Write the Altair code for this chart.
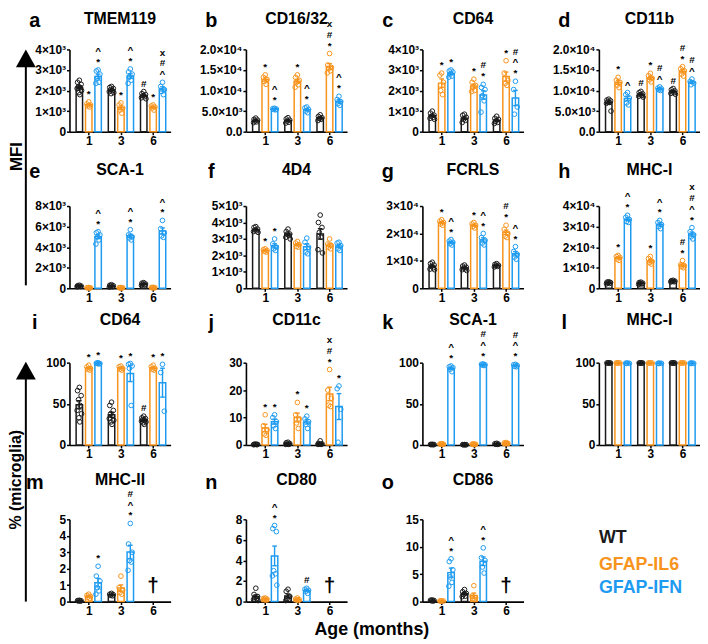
import altair as alt
import numpy as np
import pandas as pd

FONT = "Liberation Sans"
SERIES = ["WT", "GFAP-IL6", "GFAP-IFN"]
COLORS = ["#1a1a1a", "#F7941D", "#1E9BF0"]
AGES = ["1", "3", "6"]

# ---------------- values: one list of points per age (1, 3, 6 months) ----------------
TMEM119_WT = [[2500, 2400, 2300, 2200, 2150, 2100, 2000, 1900, 1800], [2200, 2150, 2100, 2050, 2000, 1950, 1900, 1850], [1950, 1850, 1800, 1750, 1700, 1650, 1600]]
TMEM119_IL6 = [[1450, 1350, 1300, 1250, 1200], [1400, 1300, 1150, 1050, 900], [1300, 1250, 1200, 1150, 1050]]
TMEM119_IFN = [[3000, 2950, 2800, 2600, 2400, 2350], [3050, 2900, 2800, 2650, 2500, 2350], [2400, 2200, 2050, 1950, 1800]]
TMEM119_SIG = [["", "*", "*^"], ["", "*", "*^"], ["#", "*", "^#x"]]

CD1632_WT = [[3300, 3000, 2800, 2600, 2400, 2200], [3400, 3100, 2800, 2600, 2300, 2100], [4100, 3700, 3400, 3200, 3000, 2700]]
CD1632_IL6 = [[13800, 13200, 12700, 12200, 11500], [13800, 13200, 12500, 12000, 11400, 10800], [19000, 16200, 15600, 15300, 14800, 14300]]
CD1632_IFN = [[5700, 5600, 5500, 5400, 5300], [6000, 5800, 5400, 5000, 4600], [8600, 7800, 7300, 6800, 6400]]
CD1632_SIG = [["", "*", "*^"], ["", "*", "*^"], ["", "*#x", "*^"]]

CD64M_WT = [[1000, 900, 800, 750, 700, 650, 600], [850, 800, 700, 600, 550, 450], [750, 650, 600, 500, 450, 400]]
CD64M_IL6 = [[2850, 2750, 2400, 2000, 1800], [2550, 2400, 2250, 2150, 2000, 1950], [3450, 2850, 2500, 2350, 2250]]
CD64M_IFN = [[3000, 2950, 2900, 2800, 2700, 2650], [2300, 2150, 2050, 1750, 1500, 950], [2450, 2050, 1200, 850]]
CD64M_SIG = [["", "*", "*"], ["", "*", "*#"], ["", "*", "*^#"]]

CD11B_WT = [[7900, 7700, 7500, 7300, 7100, 6900, 5000], [9800, 9500, 9200, 9000, 8800, 8600, 8400], [10500, 10200, 9900, 9700, 9500, 9300, 9100]]
CD11B_IL6 = [[13200, 12500, 12000, 11300, 10700], [14200, 13600, 13000, 12600, 12100], [15800, 15300, 14800, 14000, 13500]]
CD11B_IFN = [[9500, 9000, 8200, 7000, 6500], [10900, 10600, 10400, 10200, 10000], [12800, 12200, 11800, 11400]]
CD11B_SIG = [["", "*", "^"], ["#", "*", "^#"], ["#", "*#", "^#"]]

SCA1M_WT = [[300, 250, 220, 200, 180, 150], [350, 300, 250, 200, 150, 120], [550, 500, 420, 380, 330, 300]]
SCA1M_IL6 = [[80, 60, 50, 40, 30], [80, 60, 50, 40, 30], [100, 80, 60, 50, 40]]
SCA1M_IFN = [[5500, 5400, 5200, 5000, 4700, 4300], [5700, 5200, 5000, 4900, 4700], [6600, 5800, 5400, 5100, 4950]]
SCA1M_SIG = [["", "", "*^"], ["", "", "*^"], ["", "", "*^"]]

D4D4_WT = [[3750, 3700, 3600, 3550, 3500, 3450, 3400], [3600, 3450, 3300, 3300, 3200, 3100, 3000], [4450, 4000, 3700, 3400, 3100, 2350, 2150]]
D4D4_IL6 = [[2400, 2350, 2300, 2250, 2200], [2850, 2750, 2650, 2550, 2500], [3000, 2700, 2600, 2500, 2400]]
D4D4_IFN = [[3000, 2700, 2500, 2400, 2300], [3050, 2800, 2500, 2200, 2100], [2800, 2750, 2600, 2400, 2300]]
D4D4_SIG = [["", "*", "*"], ["", "", ""], ["", "", ""]]

FCRLS_WT = [[9500, 9000, 8500, 8000, 7500, 7000, 6800], [8500, 8100, 7700, 7400, 7100, 6800, 6500], [9000, 8700, 8400, 8200, 8000, 7800]]
FCRLS_IL6 = [[25000, 24500, 24000, 23500, 23000], [24000, 23500, 23000, 22500, 22000], [23000, 21500, 20000, 19000, 18500]]
FCRLS_IFN = [[17800, 17200, 16800, 16300, 15800], [20000, 18500, 17500, 16500, 15800], [15200, 13400, 12400, 11400, 10600]]
FCRLS_SIG = [["", "*", "*^"], ["", "*", "*^"], ["", "*#", "*^"]]

MHCIM_WT = [[3200, 3000, 2800, 2600, 2400, 2200], [3000, 2800, 2500, 2300, 2100, 1900], [3900, 3700, 3500, 3400, 3200, 3100]]
MHCIM_IL6 = [[16000, 15500, 15000, 14200, 13600], [15500, 14500, 13000, 12500, 11800], [13500, 11500, 11000, 10500, 10000]]
MHCIM_IFN = [[35500, 34500, 33500, 32500, 32000], [33000, 32000, 31000, 30000, 29000], [29500, 27500, 26000, 25000, 24000]]
MHCIM_SIG = [["", "*", "*^"], ["", "*", "*^"], ["", "*#", "*^#x"]]

CD64P_WT = [[70, 66, 60, 55, 48, 42, 38, 33, 28], [52, 48, 42, 38, 35, 32, 30, 28, 25], [35, 33, 32, 31, 30, 29, 28, 27, 25]]
CD64P_IL6 = [[97, 95, 93, 92, 91], [96, 95, 93, 92, 91], [97, 95, 93, 92, 91]]
CD64P_IFN = [[100, 99.5, 99, 99, 98.5], [99, 98, 96, 93, 48], [98, 88, 41]]
CD64P_SIG = [["", "*", "*"], ["", "*", "*"], ["#", "*", "*"]]

CD11C_WT = [[0.3, 0.2, 0.2, 0.1, 0.1, 0.2], [1.0, 0.8, 0.5, 0.3, 0.2, 0.2], [1.5, 0.6, 0.4, 0.3, 0.2, 0.2]]
CD11C_IL6 = [[11, 7, 5.5, 4, 3.5], [15.5, 11, 9.5, 8, 6], [27.5, 20, 17, 14, 14.5]]
CD11C_IFN = [[11, 10, 8.5, 7, 6], [10.5, 9.5, 8.5, 7.5, 6], [21.5, 20.5, 13, 1]]
CD11C_SIG = [["", "*", "*"], ["", "*", "*"], ["", "*#x", "*"]]

SCA1P_WT = [[0.8, 0.6, 0.5, 0.4, 0.3], [0.5, 0.4, 0.3, 0.2, 0.2], [2, 1.5, 1, 0.8, 0.7]]
SCA1P_IL6 = [[1.5, 1.2, 1, 0.8, 0.6], [1.2, 1, 0.8, 0.6, 0.5], [3, 2.5, 2, 1.5, 1.5]]
SCA1P_IFN = [[96, 95, 94, 92, 89], [98.5, 98, 97.5, 97, 96.5], [98, 97.5, 96.5, 95.5, 95]]
SCA1P_SIG = [["", "", "*^"], ["", "", "*^#"], ["", "", "*^#"]]

MHCIP_WT = [[99.8, 99.7, 99.6, 99.5, 99.4], [99.8, 99.7, 99.6, 99.5, 99.4], [99.8, 99.7, 99.6, 99.5, 99.4]]
MHCIP_IL6 = [[99.8, 99.7, 99.6, 99.5], [99.8, 99.7, 99.6, 99.5], [99.8, 99.7, 99.6, 99.5]]
MHCIP_IFN = [[99.6, 99.4, 99.2, 99.0], [99.5, 99.3, 99.1, 98.9], [99.6, 99.4, 99.2, 99.0]]
MHCIP_SIG = [["", "", ""], ["", "", ""], ["", "", ""]]

MHCII_WT = [[0.08, 0.06, 0.05, 0.04, 0.03], [0.5, 0.45, 0.42, 0.38, 0.35], []]
MHCII_IL6 = [[0.45, 0.38, 0.32, 0.26, 0.2], [1.55, 0.85, 0.7, 0.55, 0.45], []]
MHCII_IFN = [[2.15, 1.55, 1.25, 0.85, 0.65, 0.45], [4.75, 3.5, 3.0, 2.5, 2.4, 1.9], []]
MHCII_SIG = [["", "", "*"], ["", "", "*^#"], ["", "", ""]]

CD80_WT = [[1.3, 0.7, 0.5, 0.4, 0.3, 0.2, 0.1], [1.2, 1.0, 0.5, 0.3, 0.2, 0.1], []]
CD80_IL6 = [[0.35, 0.3, 0.25, 0.2, 0.15], [0.35, 0.25, 0.2, 0.15, 0.1], []]
CD80_IFN = [[7.4, 7.1, 6.8, 3.0, 2.7, 2.5, 1.6], [1.3, 1.2, 1.1, 1.0, 0.8], []]
CD80_SIG = [["", "", "*^"], ["", "", "#"], ["", "", ""]]

CD86_WT = [[0.3, 0.25, 0.2, 0.15, 0.1], [2.2, 1.8, 1.5, 1.3, 1.0, 0.9], []]
CD86_IL6 = [[0.15, 0.12, 0.1, 0.08], [2.9, 1.0, 0.7, 0.5, 0.4], []]
CD86_IFN = [[7.8, 7.3, 5.8, 4.5, 3.5, 2.8], [9.8, 8.0, 7.5, 6.3, 5.2], []]
CD86_SIG = [["", "", "*^"], ["", "", "*^"], ["", "", ""]]

# tick values / labels per panel
T_4K = [0, 1000, 2000, 3000, 4000]
L_4K = ["0", "1×10³", "2×10³", "3×10³", "4×10³"]
T_20K = [0, 5000, 10000, 15000, 20000]
L_20K = ["0.0", "5.0×10³", "1.0×10⁴", "1.5×10⁴", "2.0×10⁴"]
T_8K = [0, 2000, 4000, 6000, 8000]
L_8K = ["0", "2×10³", "4×10³", "6×10³", "8×10³"]
T_5K = [0, 1000, 2000, 3000, 4000, 5000]
L_5K = ["0", "1×10³", "2×10³", "3×10³", "4×10³", "5×10³"]
T_30K = [0, 10000, 20000, 30000]
L_30K = ["0", "1×10⁴", "2×10⁴", "3×10⁴"]
T_40K = [0, 10000, 20000, 30000, 40000]
L_40K = ["0", "1×10⁴", "2×10⁴", "3×10⁴", "4×10⁴"]
T_100 = [0, 50, 100]
T_30 = [0, 10, 20, 30]
T_5 = [0, 1, 2, 3, 4, 5]
T_8 = [0, 2, 4, 6, 8]
T_15 = [0, 5, 10, 15]

PANELS = [
    ("a", "TMEM119", T_4K, L_4K, TMEM119_WT, TMEM119_IL6, TMEM119_IFN, TMEM119_SIG),
    ("b", "CD16/32", T_20K, L_20K, CD1632_WT, CD1632_IL6, CD1632_IFN, CD1632_SIG),
    ("c", "CD64", T_4K, L_4K, CD64M_WT, CD64M_IL6, CD64M_IFN, CD64M_SIG),
    ("d", "CD11b", T_20K, L_20K, CD11B_WT, CD11B_IL6, CD11B_IFN, CD11B_SIG),
    ("e", "SCA-1", T_8K, L_8K, SCA1M_WT, SCA1M_IL6, SCA1M_IFN, SCA1M_SIG),
    ("f", "4D4", T_5K, L_5K, D4D4_WT, D4D4_IL6, D4D4_IFN, D4D4_SIG),
    ("g", "FCRLS", T_30K, L_30K, FCRLS_WT, FCRLS_IL6, FCRLS_IFN, FCRLS_SIG),
    ("h", "MHC-I", T_40K, L_40K, MHCIM_WT, MHCIM_IL6, MHCIM_IFN, MHCIM_SIG),
    ("i", "CD64", T_100, [str(v) for v in T_100], CD64P_WT, CD64P_IL6, CD64P_IFN, CD64P_SIG),
    ("j", "CD11c", T_30, [str(v) for v in T_30], CD11C_WT, CD11C_IL6, CD11C_IFN, CD11C_SIG),
    ("k", "SCA-1", T_100, [str(v) for v in T_100], SCA1P_WT, SCA1P_IL6, SCA1P_IFN, SCA1P_SIG),
    ("l", "MHC-I", T_100, [str(v) for v in T_100], MHCIP_WT, MHCIP_IL6, MHCIP_IFN, MHCIP_SIG),
    ("m", "MHC-II", T_5, [str(v) for v in T_5], MHCII_WT, MHCII_IL6, MHCII_IFN, MHCII_SIG),
    ("n", "CD80", T_8, [str(v) for v in T_8], CD80_WT, CD80_IL6, CD80_IFN, CD80_SIG),
    ("o", "CD86", T_15, [str(v) for v in T_15], CD86_WT, CD86_IL6, CD86_IFN, CD86_SIG),
]
DEAD_AT_6 = {"m", "n", "o"}

# ---------------- layout constants ----------------
W, H = 102, 83
PX = 36.0                      # pixels per age group
X0 = -16 / PX
X1 = X0 + W / PX
OFF = 10.5 / PX                # series offset inside a group
CAP = 2.6 / PX
BAR_W = 6.5
JIT = [0, -2, 2, -1, 1, -2.5, 2.5, -0.5, 0.5]
TITLE_DY = [-26, -31, -38, -35]
LETTER_DY = [-23, -28, -34, -31]
SIG_SIZE, SIG_STEP = 10, 11

cs = alt.Scale(domain=SERIES, range=COLORS)


def lab_expr(vals, labels):
    return ("[" + ",".join("'%s'" % l for l in labels) + "][indexof([" +
            ",".join(str(v) for v in vals) + "], datum.value)]")


def axis(vals, labels):
    return alt.Axis(values=vals, labelExpr=lab_expr(vals, labels), title=None, grid=False,
                    domainColor="black", domainWidth=1.6, tickColor="black", tickWidth=1.5,
                    tickSize=3, labelFont=FONT, labelFontSize=12, labelFontWeight="bold",
                    labelColor="black", labelPadding=1, labelFlush=False, labelOverlap=False)


def frames(wt, il6, ifn, sig):
    pts, summ, sg = [], [], []
    for si, groups in enumerate([wt, il6, ifn]):
        for gi, vals in enumerate(groups):
            if not vals:
                continue
            pos = gi + (si - 1) * OFF
            v = np.array(vals, float)
            mean = v.mean()
            sem = v.std(ddof=1) / np.sqrt(len(v)) if len(v) > 1 else 0.0
            for k, val in enumerate(sorted(vals, reverse=True)):
                pts.append(dict(series=SERIES[si], xj=pos + JIT[k % len(JIT)] / PX, value=val))
            lo, hi = max(mean - sem, 0.0), mean + sem
            summ.append(dict(series=SERIES[si], pos=pos, mean=mean, lo=lo, hi=hi,
                             cl=pos - CAP, cr=pos + CAP))
            top = max(v.max(), hi)
            for lev, ch in enumerate(sig[gi][si]):
                sg.append(dict(pos=pos, top=top, level=lev, char=ch))
    return pd.DataFrame(pts), pd.DataFrame(summ), pd.DataFrame(sg)


def text_layer(txt, x, y, size, color="black", align="center", angle=0):
    m = dict(font=FONT, fontSize=size, fontWeight="bold", color=color, align=align,
             baseline="alphabetic")
    if angle:
        m["angle"] = angle
    return alt.Chart(pd.DataFrame({"t": [txt]})).mark_text(**m).encode(
        text="t:N", x=alt.value(x), y=alt.value(y))


def arrow_layers(y_top, y_end):
    one = pd.DataFrame({"a": [0]})
    head = alt.Chart(one).mark_point(shape="M-1,0.9L0,-0.9L1,0.9Z", filled=True, size=400,
                                     color="black", opacity=1, strokeWidth=0).encode(
        x=alt.value(-44), y=alt.value(y_top + 9))
    line = alt.Chart(one).mark_rule(color="black", strokeWidth=2).encode(
        x=alt.value(-44), y=alt.value(y_top + 15), y2=alt.value(y_end))
    return [head, line]


charts = []
for idx, (letter, title, ticks, tlabels, wt, il6, ifn, sig) in enumerate(PANELS):
    row = idx // 4
    ptsdf, summ, sg = frames(wt, il6, ifn, sig)
    xs = alt.Scale(domain=[X0, X1], nice=False, zero=False)
    ys = alt.Scale(domain=[0, ticks[-1]], nice=False, zero=True)
    xa = axis([0, 1, 2], AGES)
    ya = axis(ticks, tlabels)

    def X(f):
        return alt.X(f + ":Q", scale=xs, axis=xa, title=None)

    def Y(f):
        return alt.Y(f + ":Q", scale=ys, axis=ya, title=None, stack=None)

    layers = []
    layers.append(alt.Chart(summ).mark_bar(orient="vertical", width=BAR_W, fill="white",
                                           strokeWidth=1.5).encode(
        x=X("pos"), y=Y("mean"), stroke=alt.Stroke("series:N", scale=cs, legend=None)))
    layers.append(alt.Chart(ptsdf).mark_point(shape="circle", filled=False, size=22,
                                              strokeWidth=1, opacity=1).encode(
        x=X("xj"), y=Y("value"), color=alt.Color("series:N", scale=cs, legend=None)))
    layers.append(alt.Chart(summ).mark_rule(strokeWidth=1.4).encode(
        x=X("pos"), y=Y("lo"), y2="hi:Q", color=alt.Color("series:N", scale=cs, legend=None)))
    for f in ["hi", "lo"]:
        layers.append(alt.Chart(summ).mark_rule(strokeWidth=1.4).encode(
            x=X("cl"), x2="cr:Q", y=Y(f), color=alt.Color("series:N", scale=cs, legend=None)))
    if len(sg):
        for lev in sorted(sg.level.unique()):
            layers.append(alt.Chart(sg[sg.level == lev]).mark_text(
                font=FONT, fontSize=SIG_SIZE, fontWeight="bold", color="black",
                baseline="alphabetic", dy=-(5 + SIG_STEP * int(lev))).encode(
                x=X("pos"), y=Y("top"), text="char:N"))
    if letter in DEAD_AT_6:
        layers.append(alt.Chart(pd.DataFrame({"g": [2]})).mark_text(
            text="†", font=FONT, fontSize=21, fontWeight="bold", color="black",
            baseline="alphabetic").encode(x=X("g"), y=alt.value(73)))
    layers.append(text_layer(title, W / 2, TITLE_DY[row], 16))
    layers.append(text_layer(letter, -35, LETTER_DY[row], 20))

    if letter == "a":
        layers.append(alt.Chart(pd.DataFrame({"a": [0]})).mark_rect(opacity=0).encode(
            x=alt.value(-62), x2=alt.value(-61), y=alt.value(-39), y2=alt.value(-38)))
        layers += arrow_layers(0, 238)
        layers.append(text_layer("MFI", -48, 108, 17, angle=270))
    if letter == "i":
        layers += arrow_layers(-1, 241)
        layers.append(text_layer("% (microglia)", -49, 118, 16, angle=270))
    if letter == "n":
        layers.append(text_layer("Age (months)", 127, 117, 18))
    if letter == "o":
        for s, c, yy in zip(SERIES, COLORS, [24, 51, 74]):
            layers.append(text_layer(s, 178, yy, 18, color=c, align="left"))

    charts.append(alt.layer(*layers).properties(width=W, height=H))

chart = alt.concat(*charts, columns=4, spacing={"row": 75, "column": 76},
                   bounds="flush").properties(padding=0).configure_view(stroke=None)

chart.save("out.html", embed_options={"renderer": "svg", "actions": False})
